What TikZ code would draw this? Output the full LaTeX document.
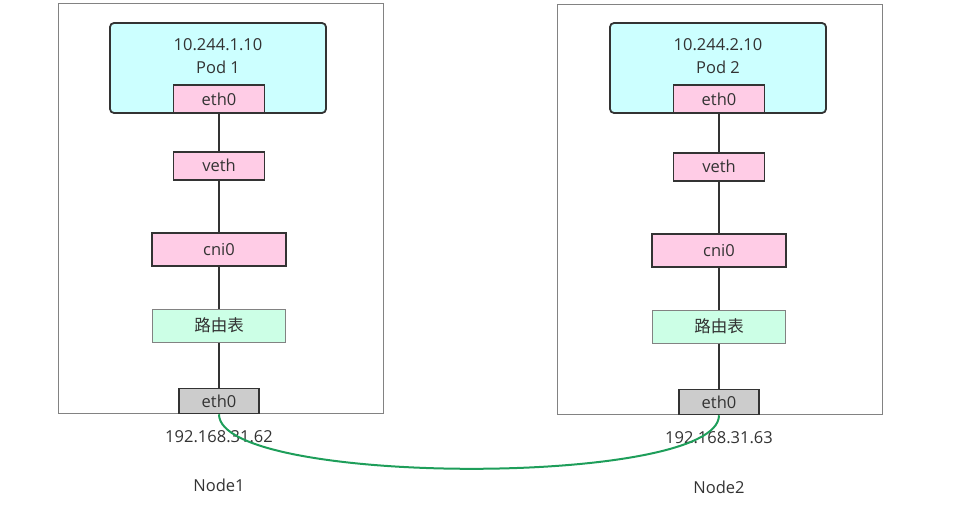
\documentclass[tikz,border=0pt]{standalone}
\usepackage{fontspec}
\setmainfont{Open Sans}
\newfontfamily\cjk{Noto Sans CJK SC}
\usepackage{tikz}
\usetikzlibrary{positioning}

\definecolor{inkgray}{RGB}{51,51,51}
\definecolor{boxgray}{RGB}{130,130,130}
\definecolor{podcyan}{RGB}{204,255,255}
\definecolor{ifpink}{RGB}{255,204,230}
\definecolor{rtgreen}{RGB}{204,255,230}
\definecolor{hostgray}{RGB}{204,204,204}
\definecolor{wiregreen}{RGB}{30,158,90}

\begin{document}
\begin{tikzpicture}[
    x=1pt, y=-1pt,
    font=\fontsize{16.5}{23}\selectfont,
    text=inkgray,
    hostbox/.style={rectangle, draw=boxgray, line width=1pt,
                    minimum width=325pt, minimum height=409pt},
    pod/.style    ={rectangle, draw=inkgray, line width=1.8pt, fill=podcyan,
                    rounded corners=4pt, minimum width=216pt, minimum height=90pt},
    ifc/.style    ={rectangle, draw=inkgray, line width=1.8pt, fill=ifpink,
                    inner sep=0pt, minimum width=91pt, minimum height=28pt},
    bridge/.style ={ifc, minimum width=134pt, minimum height=33pt},
    route/.style  ={rectangle, draw=boxgray, line width=1pt, fill=rtgreen,
                    inner sep=0pt, minimum width=133pt, minimum height=33pt},
    hostif/.style ={ifc, fill=hostgray, minimum width=80pt, minimum height=25pt},
    lbl/.style    ={inner sep=0pt, align=center},
    link/.style   ={draw=inkgray, line width=2pt},
    wire/.style   ={draw=wiregreen, line width=2pt}
]
\useasboundingbox (0,0) rectangle (964,516);

%–––– NODE 1 –––––––––––––––––––––––––––––––––––––––
\node (host1) [hostbox] at (220.5,208.5) {};
\node (pod1)  [pod] at (218,68) {};
\node (ptxt1) [lbl, below=16pt of pod1.north] {10.244.1.10\\Pod 1};
\node (peth1) [ifc, above=0pt of pod1.south, xshift=1pt] {eth0};
\node (veth1) [ifc, below=37pt of peth1]    {veth};
\node (cni1)  [bridge, below=51pt of veth1] {cni0};
\node (rt1)   [route, below=42pt of cni1]   {\cjk 路由表};
\node (heth1) [hostif, below=45pt of rt1]   {eth0};
\node (ip1)   [lbl, below=16pt of heth1]    {192.168.31.62};
\node (name1) [lbl, below=36pt of ip1]      {Node1};

%–––– NODE 2 –––––––––––––––––––––––––––––––––––––––
\node (host2) [hostbox] at (720,209.5) {};
\node (pod2)  [pod] at (718,68) {};
\node (ptxt2) [lbl, below=16pt of pod2.north] {10.244.2.10\\Pod 2};
\node (peth2) [ifc, above=0pt of pod2.south, xshift=1pt] {eth0};
\node (veth2) [ifc, below=38pt of peth2]    {veth};
\node (cni2)  [bridge, below=51pt of veth2] {cni0};
\node (rt2)   [route, below=42pt of cni2]   {\cjk 路由表};
\node (heth2) [hostif, below=45pt of rt2]   {eth0};
\node (ip2)   [lbl, below=16pt of heth2]    {192.168.31.63};
\node (name2) [lbl, below=37pt of ip2]      {Node2};

\foreach \a/\b in {peth1/veth1, veth1/cni1, cni1/rt1, rt1/heth1,
                   peth2/veth2, veth2/cni2, cni2/rt2, rt2/heth2}
  \draw[link] (\a) -- (\b);

% link between the two hosts
\draw[wire] (heth1.south) .. controls +(0,72) and +(0,72) .. (heth2.south);
\end{tikzpicture}
\end{document}
